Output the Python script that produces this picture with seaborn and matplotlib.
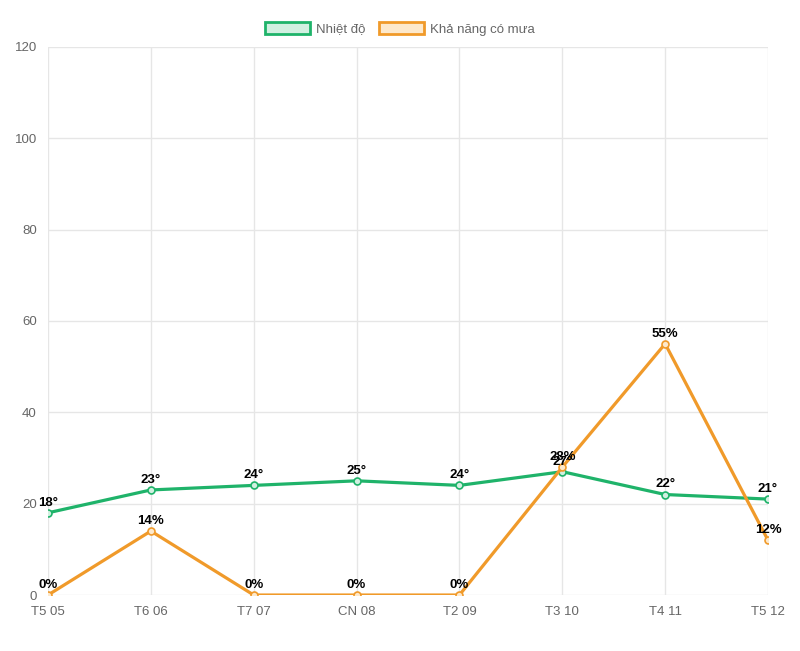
import matplotlib
matplotlib.use('Agg')

import pandas as pd
import matplotlib.pyplot as plt
import seaborn as sns
from matplotlib.patches import Patch

days = ['T5 05', 'T6 06', 'T7 07', 'CN 08', 'T2 09', 'T3 10', 'T4 11', 'T5 12']
temp = [18, 23, 24, 25, 24, 27, 22, 21]
rain = [0, 14, 0, 0, 0, 28, 55, 12]

green = '#1fb36a'
orange = '#f09a2a'

df = pd.DataFrame({'x': range(len(days)), 'temp': temp, 'rain': rain})

sns.set_style('white')
plt.rcParams['font.family'] = ['Liberation Sans', 'DejaVu Sans']

fig = plt.figure(figsize=(8, 6.51), dpi=100)
ax = fig.add_axes([0.06, 0.086, 0.90, 0.842])

sns.lineplot(data=df, x='x', y='temp', ax=ax, color=green, linewidth=2.3,
             marker='o', markersize=5, markerfacecolor='#d2f0e1',
             markeredgecolor=green, markeredgewidth=1.2, zorder=3)
sns.lineplot(data=df, x='x', y='rain', ax=ax, color=orange, linewidth=2.3,
             marker='o', markersize=5, markerfacecolor='#fde9cc',
             markeredgecolor=orange, markeredgewidth=1.2, zorder=3)

# labels above each point
for i, v in enumerate(temp):
    ax.annotate('%d°' % v, (i, v), xytext=(0, 3), textcoords='offset points',
                ha='center', va='bottom', fontsize=9.5, fontweight='bold', color='black', zorder=5)
for i, v in enumerate(rain):
    ax.annotate('%d%%' % v, (i, v), xytext=(0, 3), textcoords='offset points',
                ha='center', va='bottom', fontsize=9.5, fontweight='bold', color='black', zorder=5)

ax.set_xlim(0, len(days) - 1)
ax.set_ylim(0, 120)
ax.set_xticks(range(len(days)))
ax.set_xticklabels(days)
ax.set_yticks(range(0, 121, 20))
ax.set_xlabel('')
ax.set_ylabel('')
ax.grid(True, color='#e6e6e6', linewidth=1)
for s in ax.spines.values():
    s.set_visible(False)
ax.tick_params(axis='both', colors='#666666', labelsize=9.5, length=0, pad=8)

handles = [Patch(facecolor='#d2f0e1', edgecolor=green, linewidth=2),
           Patch(facecolor='#fde9cc', edgecolor=orange, linewidth=2)]
fig.legend(handles, ['Nhiệt độ', 'Khả năng có mưa'], loc='center', bbox_to_anchor=(0.5, 0.956),
           ncol=2, frameon=False, fontsize=9.5, handlelength=3.4, handleheight=1.1,
           columnspacing=1.0, handletextpad=0.5, labelcolor='#666666')

fig.savefig('out.png', dpi=100)
